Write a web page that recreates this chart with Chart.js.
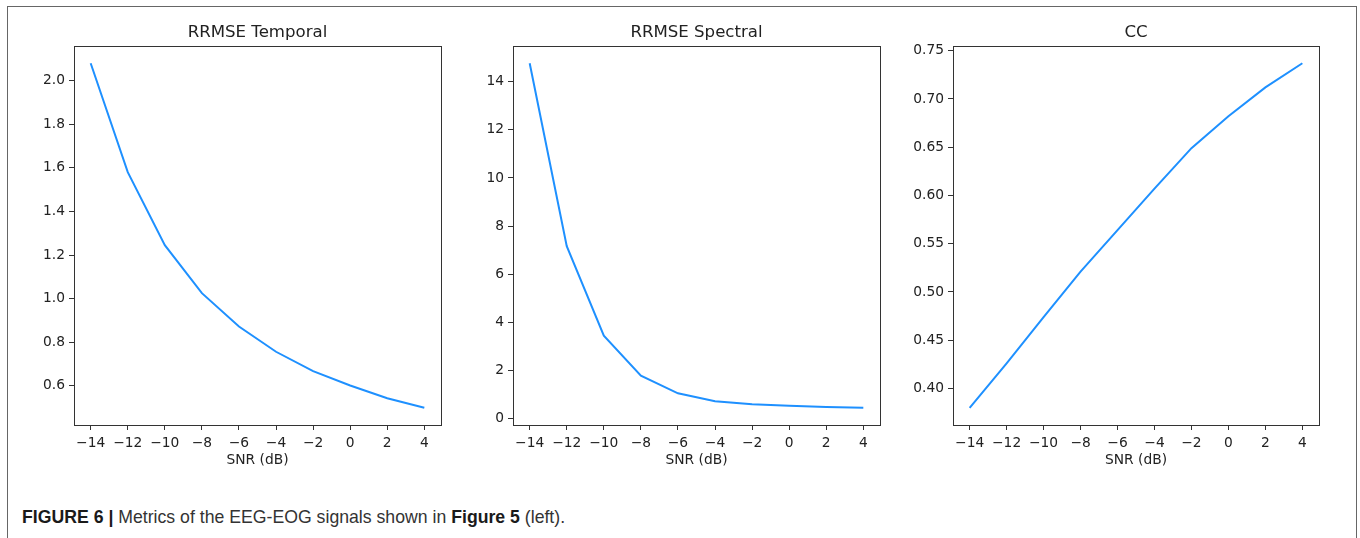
<!DOCTYPE html>
<html>
<head>
<meta charset="utf-8">
<title>Metrics of the EEG-EOG signals</title>
<script src="https://cdn.jsdelivr.net/npm/chart.js@4.4.1/dist/chart.umd.min.js"></script>
<style>
  body { margin: 0; background: #fff; width: 1360px; height: 538px; overflow: hidden; position: relative; }
  .frame { position: absolute; left: 7px; top: 6px; width: 1348px; height: 600px;
           border: 1px solid #666; border-bottom: none; }
  .panel { position: absolute; top: 8px; }
  .caption { position: absolute; left: 22px; top: 507px; font-family: "Liberation Sans", Arial, sans-serif;
             font-size: 19px; line-height: 19px; color: #333; white-space: nowrap;
             transform: scaleX(0.93); transform-origin: left center; }
  .caption b { color: #1a1a1a; }
</style>
</head>
<body>
<div class="frame"></div>
<div class="panel" style="left:10px"><canvas id="temporalChart" width="443" height="482"></canvas></div>
<div class="panel" style="left:449px"><canvas id="spectralChart" width="443" height="482"></canvas></div>
<div class="panel" style="left:889px"><canvas id="ccChart" width="442" height="482"></canvas></div>
<div class="caption"><b>FIGURE 6 |</b> Metrics of the EEG-EOG signals shown in <b>Figure 5</b> (left).</div>

<script>
// SNR levels (dB) on the x axis
const snr = [-14, -12, -10, -8, -6, -4, -2, 0, 2, 4];

// metric values per SNR level
const rrmseTemporal = [2.08, 1.58, 1.245, 1.025, 0.872, 0.756, 0.667, 0.601, 0.543, 0.499];
const rrmseSpectral = [14.76, 7.17, 3.45, 1.79, 1.06, 0.73, 0.61, 0.54, 0.49, 0.46];
const cc = [0.380, 0.426, 0.474, 0.521, 0.564, 0.607, 0.649, 0.682, 0.712, 0.737];

// tick labels
const xTicks = [-14, -12, -10, -8, -6, -4, -2, 0, 2, 4];
const temporalTicks = [0.6, 0.8, 1.0, 1.2, 1.4, 1.6, 1.8, 2.0];
const spectralTicks = [0, 2, 4, 6, 8, 10, 12, 14];
const ccTicks = [0.40, 0.45, 0.50, 0.55, 0.60, 0.65, 0.70, 0.75];

const FONT = '"DejaVu Sans", sans-serif';
const INK = '#222';
const LINE_COLOR = '#1e90ff';

function fmt(v, digits) {
    return v.toFixed(digits).replace('-', '\u2212');
}

// 5% margin around the data, like matplotlib autoscaling
function padded(values) {
    const lo = Math.min(...values), hi = Math.max(...values);
    const m = (hi - lo) * 0.05;
    return { min: lo - m, max: hi + m };
}

// box around the plot area and the panel title above it
const axesBox = {
    id: 'axesBox',
    afterDraw(chart, args, opts) {
        const { ctx, chartArea: a } = chart;
        ctx.save();
        ctx.strokeStyle = '#333';
        ctx.lineWidth = 1;
        const l = Math.round(a.left) + 0.5, t = Math.round(a.top) + 0.5;
        const r = Math.round(a.right) + 0.5, b = Math.round(a.bottom) + 0.5;
        ctx.strokeRect(l, t, r - l, b - t);
        ctx.fillStyle = INK;
        ctx.font = '16.6px ' + FONT;
        ctx.textAlign = 'center';
        ctx.textBaseline = 'middle';
        ctx.fillText(opts.title, (a.left + a.right) / 2, a.top - 13);
        ctx.restore();
    }
};

function makeChart(id, title, values, yTicks, digits) {
    const ctx = document.getElementById(id).getContext('2d');
    const xr = padded(snr);
    const yr = padded(values);

    const config = {
        type: 'line',
        data: {
            datasets: [{
                data: snr.map((x, i) => ({ x: x, y: values[i] })),
                borderColor: LINE_COLOR,
                borderWidth: 2,
                pointRadius: 0,
                tension: 0,
                fill: false
            }]
        },
        options: {
            responsive: false,
            animation: false,
            layout: { padding: { top: 38, right: 12, left: 0, bottom: 0 } },
            plugins: {
                legend: { display: false },
                tooltip: { enabled: false },
                axesBox: { title: title }
            },
            scales: {
                x: {
                    type: 'linear',
                    min: xr.min,
                    max: xr.max,
                    afterBuildTicks: s => { s.ticks = xTicks.map(v => ({ value: v })); },
                    afterFit: s => { s.height = 65; },
                    grid: { drawOnChartArea: false, drawTicks: true, tickLength: 5, color: '#333' },
                    border: { display: true, color: '#333' },
                    ticks: {
                        color: INK,
                        font: { family: FONT, size: 13.8 },
                        padding: 5,
                        maxRotation: 0,
                        autoSkip: false,
                        callback: v => fmt(v, 0)
                    },
                    title: {
                        display: true,
                        text: 'SNR (dB)',
                        color: INK,
                        font: { family: FONT, size: 13.8 },
                        padding: { top: 0, bottom: 21 }
                    }
                },
                y: {
                    type: 'linear',
                    min: yr.min,
                    max: yr.max,
                    afterBuildTicks: s => { s.ticks = yTicks.map(v => ({ value: v })); },
                    afterFit: s => { s.width = 64; },
                    grid: { drawOnChartArea: false, drawTicks: true, tickLength: 5, color: '#333' },
                    border: { display: true, color: '#333' },
                    ticks: {
                        color: INK,
                        font: { family: FONT, size: 13.8 },
                        padding: 4,
                        autoSkip: false,
                        callback: v => fmt(v, digits)
                    }
                }
            }
        },
        plugins: [axesBox]
    };

    return new Chart(ctx, config);
}

makeChart('temporalChart', 'RRMSE Temporal', rrmseTemporal, temporalTicks, 1);
makeChart('spectralChart', 'RRMSE Spectral', rrmseSpectral, spectralTicks, 0);
makeChart('ccChart', 'CC', cc, ccTicks, 2);
</script>
</body>
</html>
